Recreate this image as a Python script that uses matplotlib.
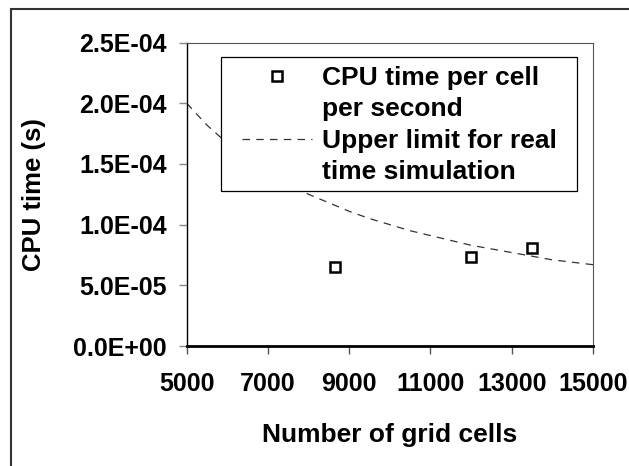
import numpy as np
import matplotlib
matplotlib.use("Agg")
import matplotlib.pyplot as plt
from matplotlib.patches import Rectangle
from matplotlib.lines import Line2D

plt.rcParams["font.family"] = ["Liberation Sans", "DejaVu Sans"]
plt.rcParams["font.weight"] = "bold"

# measured CPU time per cell per second
cells = [8650, 12000, 13500]
cpu_time = [6.5e-5, 7.3e-5, 8.1e-5]

# upper limit for real time simulation
limit_cells = [5000, 5500, 6000, 6500, 7000, 7500, 8000, 8500, 9000, 9500, 10000,
               10500, 11000, 11500, 12000, 12500, 13000, 13500, 14000, 14500, 15000]
limit_time = [2.0e-4, 1.82e-4, 1.67e-4, 1.54e-4, 1.43e-4, 1.33e-4, 1.25e-4, 1.18e-4,
              1.11e-4, 1.05e-4, 1.0e-4, 9.5e-5, 9.1e-5, 8.7e-5, 8.3e-5, 8.0e-5,
              7.7e-5, 7.4e-5, 7.1e-5, 6.9e-5, 6.7e-5]

xticks = [5000, 7000, 9000, 11000, 13000, 15000]
yticks = [0.0, 5.0e-5, 1.0e-4, 1.5e-4, 2.0e-4, 2.5e-4]
ytick_labels = ["0.0E+00", "5.0E-05", "1.0E-04", "1.5E-04", "2.0E-04", "2.5E-04"]

fig = plt.figure(figsize=(6.29, 4.66), dpi=100)
ax = fig.add_axes([0.2968, 0.2575, 0.646, 0.651])

pts, = ax.plot(cells, cpu_time, linestyle="none", marker="s", markersize=7.5,
               markerfacecolor="white", markeredgecolor="black", markeredgewidth=1.8,
               zorder=3)
lim, = ax.plot(limit_cells, limit_time, linestyle=(0, (6, 5)), color="#333333",
               linewidth=0.9, zorder=2)

ax.set_xlim(5000, 15000)
ax.set_ylim(0, 2.5e-4)
ax.set_xticks(xticks)
ax.set_xticklabels([str(t) for t in xticks])
ax.set_yticks(yticks)
ax.set_yticklabels(ytick_labels)

ax.tick_params(axis="both", labelsize=18, direction="out", length=6)
ax.tick_params(axis="y", color="#888888", width=1, pad=8.5)
ax.tick_params(axis="x", color="#555555", width=1, pad=13)

for side in ["top", "right"]:
    ax.spines[side].set_color("#555555")
    ax.spines[side].set_linewidth(0.8)
ax.spines["left"].set_color("black")
ax.spines["left"].set_linewidth(1.0)
ax.spines["bottom"].set_color("black")
ax.spines["bottom"].set_linewidth(2.0)

ax.set_ylabel("CPU time (s)", fontsize=18.5, fontweight="bold")
ax.yaxis.set_label_coords(-0.346, 0.5)
ax.set_xlabel("Number of grid cells", fontsize=19, fontweight="bold")
ax.xaxis.set_label_coords(0.5, -0.254)

# legend frame drawn separately so the rows can sit where the reference has them
frame = Rectangle((221 / 629, 1 - 191 / 466), 356 / 629, 134 / 466,
                  transform=fig.transFigure, facecolor="white", edgecolor="black",
                  linewidth=0.9, zorder=4, clip_on=False)
ax.add_artist(frame)

blank = Line2D([], [], linestyle="none")
handles = [pts, blank, lim, blank]
labels = ["CPU time per cell", "per second", "Upper limit for real", "time simulation"]
leg = ax.legend(handles, labels, loc="upper left",
                bbox_to_anchor=(242 / 629, 1 - 66 / 466),
                bbox_transform=fig.transFigure, fontsize=19, frameon=False,
                borderpad=0, handlelength=2.65, handletextpad=0.38,
                labelspacing=0.28, borderaxespad=0)
leg.set_zorder(5)

fig.patches.append(Rectangle((11 / 629, -0.1), 1.2, (466 - 9) / 466 + 0.1,
                             transform=fig.transFigure, fill=False,
                             edgecolor="#333333", linewidth=1.5))

fig.savefig("out.png", dpi=100)
